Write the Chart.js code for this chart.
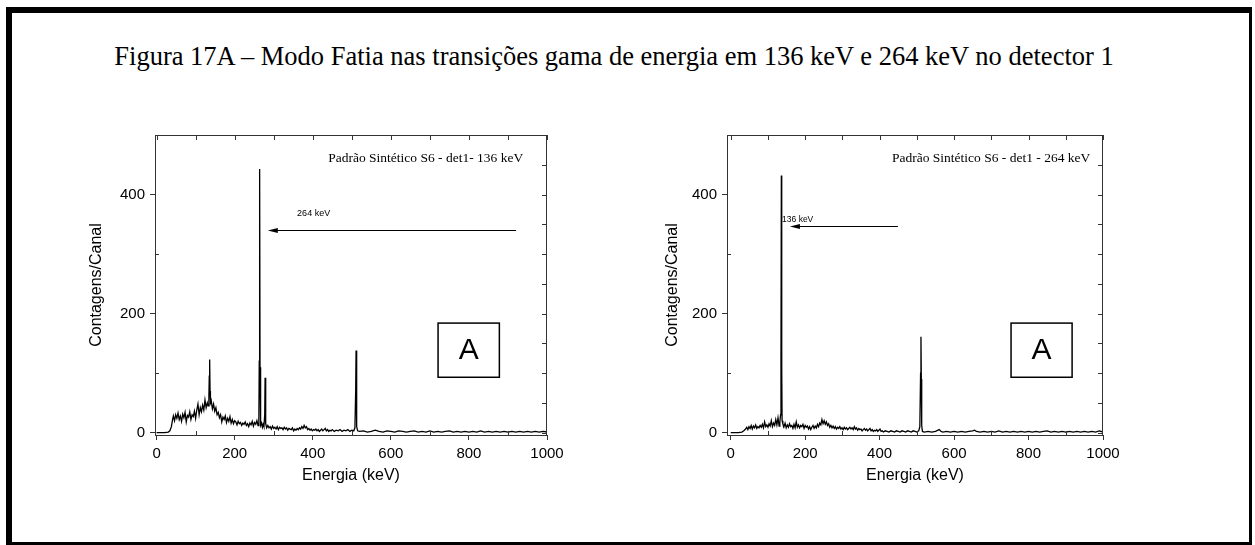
<!DOCTYPE html>
<html>
<head>
<meta charset="utf-8">
<script src="https://cdn.jsdelivr.net/npm/chart.js@4.4.1/dist/chart.umd.min.js"></script>
<style>
  html, body { margin: 0; padding: 0; background: #fff; }
  body { width: 1255px; height: 545px; position: relative; overflow: hidden; }
  #frame {
    position: absolute; left: 6px; top: 7px; width: 1246px; height: 538px;
    box-sizing: border-box; border-style: solid; border-color: #000;
    border-width: 6px 3px 3px 6px;
  }
  #title {
    position: absolute; left: 0; width: 1228px; top: 41px; text-align: center;
    font-family: 'Liberation Serif', serif; font-size: 26.5px; color: #000; white-space: nowrap;
  }
  .box { position: absolute; top: 120px; height: 380px; }
  #c1 { left: 70px; width: 510px; }
  #c2 { left: 640px; width: 500px; }
</style>
</head>
<body>
<div id="frame"></div>
<div id="title">Figura 17A – Modo Fatia nas transições gama de energia em 136 keV e 264 keV no detector 1</div>
<div class="box" id="c1"><canvas id="chart1" width="510" height="380"></canvas></div>
<div class="box" id="c2"><canvas id="chart2" width="500" height="380"></canvas></div>
<script>
// ---- data (energy in keV, counts per channel) ----
const energy1 = [0, 10, 20, 30, 34, 38, 41, 43, 46, 49, 52, 55, 58, 61, 64, 67, 70, 73, 76, 79, 82, 85, 88, 91, 94, 97,
  100, 103, 106, 109, 112, 115, 118, 121, 124, 127, 130, 132, 134, 135, 136, 137, 138, 140, 143, 146, 149, 152, 155, 158,
  161, 164, 167, 170, 173, 176, 179, 182, 185, 188, 191, 194, 197, 200, 203, 206, 209, 212, 215, 218, 221, 224, 227, 230,
  233, 236, 239, 242, 245, 248, 251, 254, 257, 260, 262, 263, 264, 265, 266, 267, 269, 271, 273, 275, 277, 278, 279, 280,
  282, 285, 288, 291, 294, 297, 300, 303, 306, 309, 312, 315, 318, 321, 324, 327, 330, 333, 336, 339, 342, 345, 348, 351,
  354, 357, 360, 363, 366, 369, 372, 375, 378, 381, 384, 387, 390, 393, 396, 399, 402, 405, 408, 411, 414, 417, 420, 423,
  426, 429, 432, 435, 438, 441, 444, 447, 450, 455, 460, 465, 470, 475, 480, 485, 490, 495, 500, 505, 508, 510, 511, 512,
  513, 515, 520, 530, 540, 550, 560, 570, 580, 590, 600, 610, 620, 630, 640, 650, 660, 670, 680, 690, 700, 710, 720, 730,
  740, 750, 760, 770, 780, 790, 800, 810, 820, 830, 840, 850, 860, 870, 880, 890, 900, 910, 920, 930, 940, 950, 960, 970,
  980, 990, 1000]
const counts1 = [0, 0, 0, 1, 3, 10, 22, 28, 20, 30, 24, 33, 22, 28, 19, 31, 25, 34, 18, 29, 26, 35, 22, 30, 27, 36,
  24, 38, 48, 30, 42, 35, 46, 38, 55, 42, 50, 45, 60, 95, 123, 70, 50, 54, 40, 48, 36, 42, 30, 34,
  25, 30, 18, 26, 22, 28, 17, 24, 19, 27, 16, 22, 15, 20, 18, 13, 19, 15, 17, 12, 16, 14, 18, 12,
  15, 10, 16, 13, 19, 11, 17, 14, 20, 12, 20, 120, 443, 110, 30, 12, 16, 9, 14, 10, 30, 92, 50, 15,
  8, 12, 8, 10, 6, 11, 7, 9, 6, 10, 5, 9, 7, 8, 5, 9, 6, 8, 4, 7, 6, 5, 8, 3,
  6, 4, 7, 5, 8, 6, 10, 7, 12, 8, 10, 5, 7, 4, 6, 3, 5, 4, 6, 3, 5, 2, 4, 6,
  3, 5, 7, 3, 5, 2, 4, 3, 5, 2, 4, 3, 5, 2, 4, 3, 5, 2, 4, 3, 8, 70, 138, 60,
  10, 3, 2, 3, 1, 2, 4, 2, 1, 3, 2, 1, 3, 2, 1, 2, 3, 1, 2, 1, 3, 1, 2, 1,
  2, 3, 1, 2, 1, 2, 1, 2, 1, 3, 1, 2, 1, 2, 1, 2, 1, 2, 1, 2, 1, 2, 1, 2,
  1, 2, 1]

const energy2 = [0, 10, 20, 30, 35, 40, 43, 46, 49, 52, 55, 58, 61, 64, 67, 70, 73, 76, 79, 82, 85, 88, 91, 94, 97,
  100, 103, 106, 109, 112, 115, 118, 121, 124, 127, 130, 132, 134, 135, 136, 137, 138, 140, 143, 146, 149, 152, 155, 158,
  161, 164, 167, 170, 173, 176, 179, 182, 185, 188, 191, 194, 197, 200, 203, 206, 209, 212, 215, 218, 221, 224, 227, 230,
  233, 236, 239, 242, 245, 248, 251, 254, 257, 260, 263, 266, 269, 272, 275, 278, 281, 284, 287, 290, 293, 296, 299, 302,
  305, 308, 311, 314, 317, 320, 323, 326, 329, 332, 335, 338, 341, 344, 347, 350, 353, 356, 359, 362, 365, 368, 371, 374,
  377, 380, 383, 386, 389, 392, 395, 398, 401, 404, 407, 410, 415, 420, 425, 430, 435, 440, 445, 450, 455, 460, 465, 470,
  475, 480, 485, 490, 495, 500, 505, 508, 510, 511, 512, 513, 515, 520, 530, 540, 550, 560, 565, 570, 580, 590, 600, 610,
  620, 630, 640, 650, 655, 660, 670, 680, 690, 700, 710, 720, 730, 740, 750, 760, 770, 780, 790, 800, 810, 820, 830, 840,
  850, 860, 870, 880, 890, 900, 910, 920, 930, 940, 950, 960, 970, 980, 990, 1000]
const counts2 = [0, 0, 0, 1, 3, 6, 9, 5, 10, 7, 12, 6, 11, 8, 13, 7, 10, 8, 12, 9, 14, 8, 18, 10, 13,
  9, 15, 11, 20, 10, 16, 12, 22, 13, 25, 11, 18, 30, 130, 432, 110, 20, 15, 10, 16, 8, 13, 9, 15,
  10, 12, 7, 14, 8, 18, 9, 13, 8, 12, 10, 14, 7, 12, 9, 11, 6, 10, 5, 9, 12, 7, 11, 8,
  14, 10, 16, 13, 22, 15, 20, 14, 18, 12, 15, 9, 12, 8, 11, 7, 10, 6, 9, 7, 10, 6, 8, 5,
  9, 6, 8, 5, 7, 9, 6, 8, 5, 10, 6, 8, 4, 7, 5, 6, 3, 5, 7, 4, 6, 3, 5, 7,
  3, 5, 2, 4, 3, 5, 2, 4, 6, 2, 3, 1, 3, 2, 1, 3, 2, 1, 3, 2, 1, 3, 2, 1,
  3, 2, 1, 3, 2, 1, 3, 10, 100, 161, 90, 12, 2, 1, 2, 1, 2, 5, 2, 1, 2, 1, 2, 1,
  2, 1, 2, 3, 4, 2, 1, 2, 1, 2, 1, 3, 1, 2, 1, 2, 1, 2, 1, 2, 1, 2, 1, 2,
  3, 1, 2, 1, 2, 1, 2, 1, 2, 1, 2, 1, 2, 1, 3, 1]

// ---- tick labels / axis marks ----
const xMajor = [0, 200, 400, 600, 800, 1000]
const xMinor = [100, 300, 500, 700, 900]
const xTop = [0, 100, 200, 300, 400, 500, 600, 700, 800, 900, 1000]
const yMajor = [0, 200, 400]
const yMinor = [100, 300]
const yRight = [0, 50, 100, 150, 200, 250, 300, 350, 400, 450, 500]

const axisColor = '#333'

// draws the mirrored axes, minor ticks and the text/arrow/box notes
const frameNotes = {
  id: 'frameNotes',
  afterDraw (chart, args, o) {
    const { ctx, chartArea: a, scales: { x, y } } = chart
    ctx.save()
    ctx.strokeStyle = axisColor
    ctx.lineWidth = 1
    ctx.beginPath()
    ctx.moveTo(a.left, a.top + 0.5); ctx.lineTo(a.right, a.top + 0.5)
    ctx.moveTo(a.right - 0.5, a.top); ctx.lineTo(a.right - 0.5, a.bottom)
    xTop.forEach(v => { const p = Math.round(x.getPixelForValue(v)) + 0.5; ctx.moveTo(p, a.top); ctx.lineTo(p, a.top + 5) })
    yRight.forEach(v => { const p = Math.round(y.getPixelForValue(v)) + 0.5; ctx.moveTo(a.right, p); ctx.lineTo(a.right - 5, p) })
    xMinor.forEach(v => { const p = Math.round(x.getPixelForValue(v)) + 0.5; ctx.moveTo(p, a.bottom); ctx.lineTo(p, a.bottom - 4) })
    yMinor.forEach(v => { const p = Math.round(y.getPixelForValue(v)) + 0.5; ctx.moveTo(a.left, p); ctx.lineTo(a.left + 4, p) })
    ctx.stroke()

    // sample label
    ctx.fillStyle = '#000'
    ctx.font = '13.5px "Liberation Serif", serif'
    ctx.textAlign = 'right'
    ctx.textBaseline = 'middle'
    ctx.fillText(o.note, x.getPixelForValue(o.noteAt[0]), y.getPixelForValue(o.noteAt[1]))

    // arrow
    const x0 = x.getPixelForValue(o.arrowFrom)
    const x1 = x.getPixelForValue(o.arrowTo)
    const ya = Math.round(y.getPixelForValue(o.arrowY)) + 0.5
    ctx.strokeStyle = '#000'
    ctx.beginPath(); ctx.moveTo(x0, ya); ctx.lineTo(x1 + 8, ya); ctx.stroke()
    ctx.beginPath(); ctx.moveTo(x1, ya); ctx.lineTo(x1 + 10, ya - 2.5); ctx.lineTo(x1 + 10, ya + 2.5); ctx.closePath(); ctx.fill()
    ctx.font = o.arrowFont + ' "Liberation Sans", Arial, sans-serif'
    ctx.textAlign = 'left'
    ctx.fillText(o.arrowLabel, x.getPixelForValue(o.arrowLabelAt[0]), y.getPixelForValue(o.arrowLabelAt[1]))

    // "A" box
    const bl = x.getPixelForValue(o.box[0]); const br = x.getPixelForValue(o.box[1])
    const bb = y.getPixelForValue(o.box[2]); const bt = y.getPixelForValue(o.box[3])
    ctx.lineWidth = 1.5
    ctx.strokeRect(bl, bt, br - bl, bb - bt)
    ctx.font = '30px "Liberation Sans", Arial, sans-serif'
    ctx.textAlign = 'center'
    ctx.fillText('A', (bl + br) / 2, (bt + bb) / 2 + 1)
    ctx.restore()
  }
}

function makeChart (id, energy, counts, xMin, yAxisWidth, rightPad, titlePad, notes) {
  const points = energy.map((e, i) => ({ x: e, y: counts[i] }))
  return new Chart(document.getElementById(id), {
    type: 'line',
    data: {
      datasets: [{
        data: points,
        borderColor: '#000',
        borderWidth: 1.3,
        pointRadius: 0,
        tension: 0,
        fill: false
      }]
    },
    options: {
      responsive: false,
      animation: false,
      layout: { padding: { top: 15, right: rightPad, left: 0, bottom: 0 } },
      plugins: {
        legend: { display: false },
        tooltip: { enabled: false },
        frameNotes: notes
      },
      scales: {
        x: {
          type: 'linear',
          min: xMin,
          max: 1000,
          afterBuildTicks: s => { s.ticks = xMajor.map(v => ({ value: v })) },
          afterFit: s => { s.height = 65 },
          border: { display: true, color: axisColor, width: 1 },
          grid: { display: true, drawOnChartArea: false, drawTicks: true, tickLength: 5, color: axisColor },
          ticks: { color: '#000', padding: 5, maxRotation: 0, callback: v => String(v), font: { family: '"Liberation Sans", Arial', size: 15 } },
          title: { display: true, text: 'Energia (keV)', color: '#000', padding: { top: 0, bottom: 15 }, font: { family: '"Liberation Sans", Arial', size: 16 } }
        },
        y: {
          type: 'linear',
          min: -4,
          max: 500,
          afterBuildTicks: s => { s.ticks = yMajor.map(v => ({ value: v })) },
          afterFit: s => { s.width = yAxisWidth },
          border: { display: true, color: axisColor, width: 1 },
          grid: { display: true, drawOnChartArea: false, drawTicks: true, tickLength: 5, color: axisColor },
          ticks: { color: '#000', padding: 5, callback: v => String(v), font: { family: '"Liberation Sans", Arial', size: 15 } },
          title: { display: true, text: 'Contagens/Canal', color: '#000', padding: { top: titlePad, bottom: 0 }, font: { family: '"Liberation Sans", Arial', size: 16 } }
        }
      }
    },
    plugins: [frameNotes]
  })
}

makeChart('chart1', energy1, counts1, -4, 85, 33, 17, {
  note: 'Padrão Sintético S6 - det1- 136 keV',
  noteAt: [939, 461],
  arrowFrom: 921,
  arrowTo: 285,
  arrowY: 340,
  arrowLabel: '264 keV',
  arrowLabelAt: [360, 368],
  arrowFont: '9px',
  box: [721, 878, 93, 184]
})

makeChart('chart2', energy2, counts2, -10, 87, 37, 23, {
  note: 'Padrão Sintético S6 - det1 - 264 keV',
  noteAt: [966, 461],
  arrowFrom: 449,
  arrowTo: 159,
  arrowY: 347,
  arrowLabel: '136 keV',
  arrowLabelAt: [138, 357],
  arrowFont: '8.5px',
  box: [753, 917, 93, 184]
})
</script>
</body>
</html>
